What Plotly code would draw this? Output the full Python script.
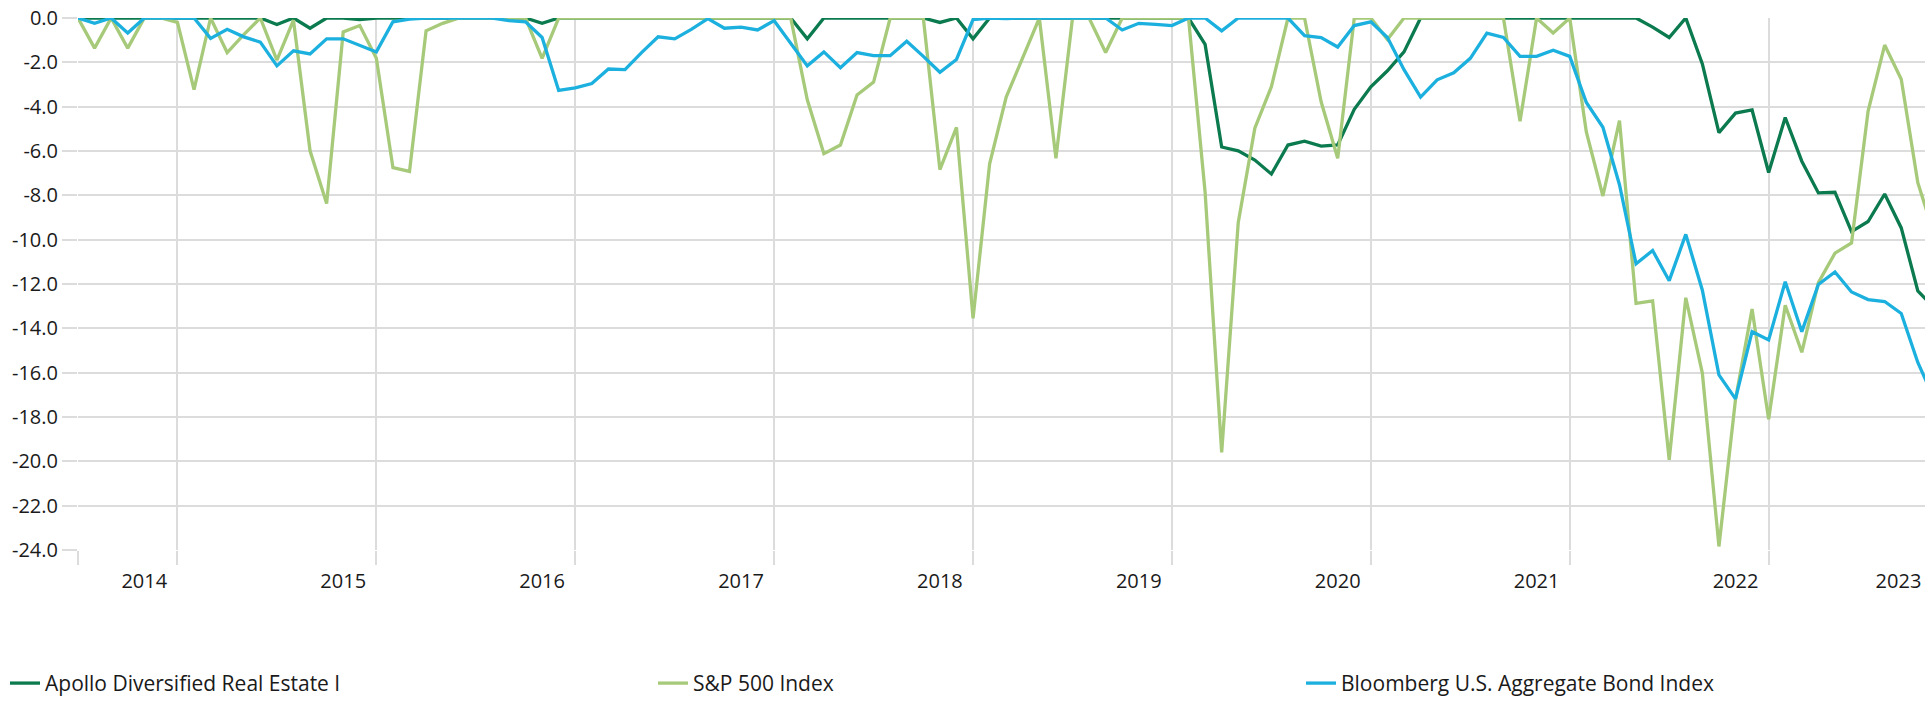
import plotly.graph_objects as go

# Drawdown (%) by month index along the x axis (monthly observations)
apollo = [
    0, 0, 0, 0, 0, 0, 0, 0, 0, 0, 0, 0,
    -0.29, 0, -0.46, 0, 0, -0.07, 0, 0, 0, 0, 0, 0,
    0, 0, 0, 0, -0.24, 0, 0, 0, 0, 0, 0, 0,
    0, 0, 0, 0, 0, 0, 0, 0, -0.94, 0, 0, 0,
    0, 0, 0, 0, -0.2, 0, -0.94, 0, 0, 0, 0, 0,
    0, 0, 0, 0, 0, 0, 0, 0, -1.19, -5.82, -5.99, -6.41,
    -7.04, -5.73, -5.56, -5.78, -5.73, -4.12, -3.1, -2.38, -1.53, 0, 0, 0,
    0, 0, 0, 0, 0, 0, 0, 0, 0, 0, 0, -0.41,
    -0.88, 0, -2.07, -5.17, -4.29, -4.15, -6.97, -4.49, -6.46, -7.89, -7.86, -9.64,
    -9.18, -7.94, -9.47, -12.31, -13.1,
]
sp500 = [
    0, -1.36, 0, -1.36, 0, 0, -0.2, -3.23, 0, -1.56, -0.75, 0,
    -1.9, -0.1, -5.99, -8.37, -0.63, -0.34, -1.82, -6.75, -6.92, -0.58, -0.24, 0,
    0, 0, 0, 0, -1.82, 0, 0, 0, 0, 0, 0, 0,
    0, 0, 0, 0, 0, 0, 0, 0, -3.69, -6.12, -5.73, -3.47,
    -2.89, 0, 0, 0, -6.84, -4.93, -13.55, -6.58, -3.57, -1.82, 0, -6.33,
    0, 0, -1.56, 0, 0, 0, 0, 0, -7.86, -19.6, -9.22, -4.97,
    -3.1, 0, 0, -3.78, -6.33, 0, 0, -0.97, 0, 0, 0, 0,
    0, 0, 0, -4.66, 0, -0.68, 0, -5.14, -8.03, -4.63, -12.87, -12.76,
    -19.93, -12.62, -16.02, -23.84, -17.21, -13.13, -18.1, -12.96, -15.08, -11.94, -10.61, -10.15,
    -4.2, -1.22, -2.76, -7.43, -9.8,
]
bond = [
    0, -0.24, 0, -0.68, 0, 0, 0, 0, -0.92, -0.51, -0.85, -1.09,
    -2.16, -1.48, -1.62, -0.94, -0.94, -1.22, -1.53, -0.17, -0.05, 0, 0, 0,
    0, 0, -0.12, -0.17, -0.88, -3.27, -3.15, -2.96, -2.3, -2.33, -1.56, -0.85,
    -0.94, -0.51, -0.03, -0.46, -0.41, -0.54, -0.12, -1.14, -2.16, -1.53, -2.24, -1.56,
    -1.7, -1.7, -1.05, -1.73, -2.45, -1.87, -0.07, 0, -0.03, 0, 0, 0,
    0, 0, 0, -0.54, -0.24, -0.29, -0.34, 0, 0, -0.58, 0, 0,
    0, 0, -0.8, -0.88, -1.31, -0.34, -0.17, -0.88, -2.33, -3.57, -2.79, -2.47,
    -1.82, -0.68, -0.88, -1.73, -1.73, -1.45, -1.73, -3.81, -4.93, -7.52, -11.09, -10.49,
    -11.85, -9.76, -12.28, -16.1, -17.18, -14.15, -14.52, -11.9, -14.15, -12.02, -11.46, -12.36,
    -12.7, -12.79, -13.33, -15.54, -17.2,
]
months = list(range(len(apollo)))

year_labels = ["2014", "2015", "2016", "2017", "2018", "2019", "2020", "2021", "2022", "2023"]
y_ticks = [0, -2, -4, -6, -8, -10, -12, -14, -16, -18, -20, -22, -24]

series_names = ["Apollo Diversified Real Estate I", "S&P 500 Index", "Bloomberg U.S. Aggregate Bond Index"]
colors = ["#0b7a4e", "#a6ca79", "#1cb0df"]

W, H = 1925, 704
ML, MT = 78, 18.3
PLOT_H = 539.4
PX_PER_MONTH = 16.575
PLOT_W = W - ML
x_max = PLOT_W / PX_PER_MONTH

label_pos = [4 + 12 * k for k in range(len(year_labels))]
label_pos = [min(p, x_max - 1.6) for p in label_pos]
grid_pos = [0] + [6 + 12 * k for k in range(9)]

GRID = "#dcdcdc"
FONT = "Open Sans"
TXT = "#1a1a1a"

legend_ids = ["legend", "legend2", "legend3"]
legend_left_px = [5, 653, 1301]
legend_y = (PLOT_H - (693 - MT)) / PLOT_H

fig = go.Figure()
for name, vals, col, lid in zip(series_names, [apollo, sp500, bond], colors, legend_ids):
    fig.add_trace(go.Scatter(
        x=months, y=vals, name=name, mode="lines",
        line=dict(color=col, width=3.3), cliponaxis=False, legend=lid,
    ))

legend_common = dict(
    orientation="h", xanchor="left", yanchor="middle", y=legend_y,
    font=dict(family=FONT, size=21, color=TXT),
    bgcolor="rgba(0,0,0,0)", itemwidth=30,
)
legends = {}
for lid, lx in zip(legend_ids, legend_left_px):
    legends[lid] = dict(legend_common, x=(lx - ML) / PLOT_W)

fig.update_layout(
    width=W, height=H, autosize=False,
    margin=dict(l=ML, r=0, t=MT, b=H - MT - PLOT_H, pad=0),
    paper_bgcolor="white", plot_bgcolor="white",
    font=dict(family=FONT, size=20, color=TXT),
    showlegend=True,
    xaxis=dict(
        range=[0, x_max], showgrid=False, zeroline=False, showline=False,
        tickmode="array", tickvals=label_pos, ticktext=year_labels,
        ticks="outside", ticklen=13, tickcolor="rgba(0,0,0,0)",
        tickfont=dict(family=FONT, size=20, color=TXT),
        minor=dict(tickmode="array", tickvals=grid_pos, showgrid=True,
                   gridcolor=GRID, gridwidth=2, ticks="outside", ticklen=14,
                   tickcolor=GRID, tickwidth=2),
    ),
    yaxis=dict(
        range=[-24, 0], showgrid=True, gridcolor=GRID, gridwidth=2,
        zeroline=False, showline=False,
        tickmode="array", tickvals=y_ticks, ticktext=[f"{v:.1f}" for v in y_ticks],
        ticks="outside", ticklen=15, tickcolor=GRID, tickwidth=2,
        tickfont=dict(family=FONT, size=20, color=TXT),
    ),
    **legends,
)

fig.write_html(
    "out.html",
    config={"displayModeBar": False},
    post_script="document.body.style.margin='0';document.body.style.overflow='hidden';",
)
